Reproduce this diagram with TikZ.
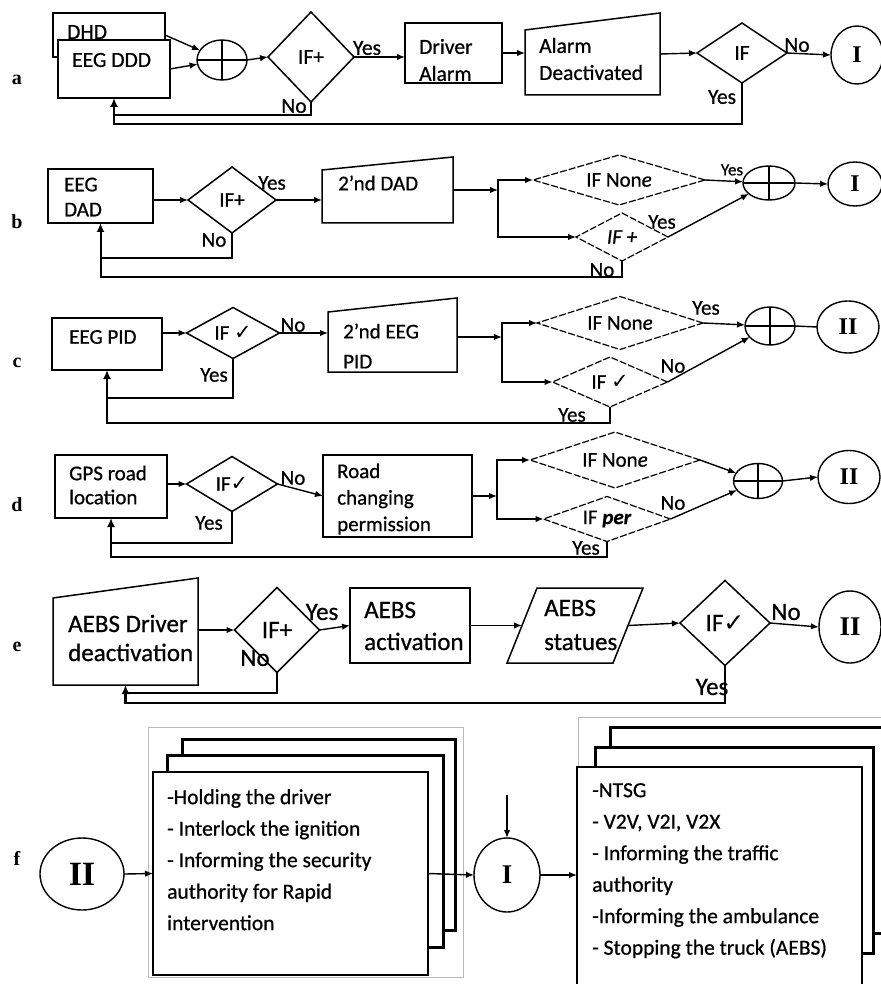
\documentclass[tikz,border=0pt]{standalone}
\usepackage{fontspec}
\setmainfont{Carlito}[FakeBold=0.7]
\newfontfamily\serifb{Liberation Serif}
\newfontfamily\djv{DejaVu Sans}
\usetikzlibrary{arrows.meta,shapes.geometric,calc}
\newcommand\tsz[2]{\fontsize{#1}{#2}\selectfont}
\newcommand\chk{{\djv\char"2713}}
\begin{document}
\begin{tikzpicture}[x=1pt,y=-1pt,
 bx/.style={draw,line width=1.5pt,fill=white,inner sep=0pt,outer sep=0pt},
 ghost/.style={inner sep=0pt,outer sep=0pt},
 shp/.style={draw,line width=1.5pt,fill=white,line join=miter},
 dia/.style={draw,diamond,line width=1.5pt,inner sep=0pt,outer sep=0pt},
 ddia/.style={draw,diamond,line width=1.2pt,dash pattern=on 7pt off 2pt,inner sep=0pt,outer sep=0pt},
 sumell/.style={draw,ellipse,line width=1.4pt,inner sep=0pt,outer sep=0pt},
 con/.style={draw,ellipse,line width=1.4pt,inner sep=0pt,outer sep=0pt,font=\serifb\bfseries\tsz{24}{24}},
 txt/.style={anchor=west,align=left,inner sep=0pt},
 yn/.style={inner sep=0pt},
 arr/.style={line width=1.4pt,-{Latex[length=8pt,width=6.5pt]}},
 lp/.style={line width=2pt},
 lparr/.style={line width=2pt,-{Latex[length=9pt,width=8pt]}},
 lab/.style={font=\serifb\bfseries\tsz{20}{20}},
 stk/.style={draw,line width=3pt,fill=white},
 frm/.style={draw=gray!55,line width=1pt},
 crs/.style={line width=1.4pt}
]
\useasboundingbox (0,0) rectangle (880,984);
\fill[white] (0,0) rectangle (880,984);

% ---------------- row a ----------------
\begin{scope}[font=\tsz{21.5}{27}]
\node[lab] (la) at (17,80) {a};
\node[bx,minimum width=112,minimum height=44] (dhd) at (109,35) {};
\node[txt] (dhdt) at (67,32) {DHD};
\node[bx,minimum width=112,minimum height=58] (eegA) at (114,69) {};
\node[txt] (eegAt) at (72,60) {EEG DDD};
\node[sumell,minimum width=50,minimum height=40] (sumA) at (222,60) {};
\draw[crs] (sumA.north) -- (sumA.south) (sumA.west) -- (sumA.east);
\node[dia,minimum width=86,minimum height=90] (ifA1) at (311,57) {};
\node (ifA1t) at (ifA1) {IF+};
\node[bx,minimum width=97,minimum height=60] (drv) at (453.5,53) {};
\node[txt] (drvt) at (419,60) {Driver\\Alarm};
\node[ghost,minimum width=135,minimum height=82] (alarm) at (592.5,54) {};
\draw[shp] (alarm.south west) -- ($(alarm.north west)+(0,17)$) -- (alarm.north east) -- (alarm.south east) -- cycle;
\node[txt] (alarmt) at (539,59) {Alarm\\Deactivated};
\node[dia,minimum width=90,minimum height=60] (ifA2) at (742,53) {};
\node (ifA2t) at (ifA2) {IF};
\node[con,minimum width=52,minimum height=58] (cIa) at (857,55) {I};
\draw[arr] (dhd.east) -- (sumA);
\draw[arr] (eegA.east) -- (sumA);
\draw[arr] (sumA.east) -- (ifA1.west);
\draw[arr] (ifA1.east) -- (ifA1.east -| drv.west);
\draw[arr] (drv.east) -- (drv.east -| alarm.west);
\draw[arr] (alarm.east) -- (ifA2.west);
\draw[arr] (ifA2.east) -- (cIa.west);
\coordinate (laI) at (311,115);
\coordinate (laO) at (742,124);
\draw[lp,line width=2.8pt] (ifA1.south) -- (laI) -- (laI -| eegA.south);
\draw[lparr,line width=2.8pt] (ifA2.south) -- (laO) -- (laO -| eegA.south) -- (eegA.south);
\node[yn] (ya1) at (367,48) {Yes};
\node[yn] (na1) at (294,106) {No};
\node[yn] (na2) at (797,45) {No};
\node[yn] (ya2) at (722,97) {Yes};
\end{scope}

% ---------------- row b ----------------
\begin{scope}[font=\tsz{21}{25}]
\node[lab] (lb) at (17,222) {b};
\node[bx,minimum width=105,minimum height=54] (eegB) at (100.5,196) {};
\node[txt] (eegBt) at (64,197) {EEG\\DAD};
\node[dia,minimum width=88,minimum height=66] (ifB1) at (232,200) {};
\node (ifB1t) at (ifB1) {IF+};
\node[ghost,minimum width=131,minimum height=66] (dadB) at (387.5,190) {};
\draw[shp] (dadB.south west) -- ($(dadB.north west)+(0,13)$) -- (dadB.north east) -- (dadB.south east) -- cycle;
\node[txt] (dadBt) at (338,183) {2’nd DAD};
\coordinate (jB) at (498,190);
\node[ddia,minimum width=172,minimum height=50] (ifB2) at (619,180) {};
\node (ifB2t) at (ifB2) {IF Non\textit{e}};
\node[ddia,minimum width=92,minimum height=48] (ifB3) at (622,237) {};
\node (ifB3t) at (ifB3) {\textit{IF +}};
\node[sumell,minimum width=52,minimum height=34] (sumB) at (769,183) {};
\draw[crs] (sumB.north) -- (sumB.south) (sumB.west) -- (sumB.east);
\node[con,minimum width=54,minimum height=44] (cIb) at (855,184) {I};
\draw[arr] (eegB.east |- ifB1.west) -- (ifB1.west);
\draw[arr] (ifB1.east) -- (ifB1.east -| dadB.west);
\draw[arr] (dadB.east) -- (jB);
\draw[arr] (jB) |- (ifB2.west);
\draw[arr] (jB) |- (ifB3.west);
\draw[arr] (ifB2.east) -- (sumB);
\draw[arr] (ifB3.east) -- (sumB);
\draw[arr] (sumB.east) -- (cIb.west);
\coordinate (lbI) at (232,258);
\coordinate (lbO) at (622,277);
\draw[lp] (ifB1.south) -- (lbI) -- (lbI -| eegB.south);
\draw[lparr] (ifB3.south) -- (lbO) -- (lbO -| eegB.south) -- (eegB.south);
\node[yn] (yb1) at (272,183) {Yes};
\node[yn] (nb1) at (214,240) {No};
\node[yn,font=\tsz{17}{17}] (yb2) at (732,170) {Yes};
\node[yn] (yb3) at (662,222) {Yes};
\node[yn] (nb2) at (602,270) {No};
\end{scope}

% ---------------- row c ----------------
\begin{scope}[font=\tsz{21}{25}]
\node[lab] (lc) at (17,363) {c};
\node[bx,minimum width=110,minimum height=52] (eegC) at (107,344) {};
\node[txt] (eegCt) at (69,337) {EEG PID};
\node[dia,minimum width=93,minimum height=51] (ifC1) at (233,333) {};
\node (ifC1t) at (ifC1) {IF \chk};
\node[ghost,minimum width=129,minimum height=74] (pidC) at (392.5,335) {};
\draw[shp] (pidC.south west) -- ($(pidC.north west)+(0,14)$) -- (pidC.north east) -- (pidC.south east) -- cycle;
\node[txt,font=\tsz{21}{30}] (pidCt) at (343,346) {2’nd EEG\\PID};
\coordinate (jC) at (502,337);
\node[ddia,minimum width=166,minimum height=53] (ifC2) at (620,323) {};
\node (ifC2t) at (ifC2) {IF Non\textit{e}};
\node[ddia,minimum width=115,minimum height=50] (ifC3) at (610,382) {};
\node (ifC3t) at (ifC3) {IF \chk};
\node[sumell,minimum width=50,minimum height=38] (sumC) at (770,326) {};
\draw[crs] (sumC.north) -- (sumC.south) (sumC.west) -- (sumC.east);
\node[con,minimum width=62,minimum height=52] (cIIc) at (848,327) {II};
\draw[arr] (eegC.east |- ifC1.west) -- (ifC1.west);
\draw[arr] (ifC1.east) -- (ifC1.east -| pidC.west);
\draw[arr] (pidC.east |- jC) -- (jC);
\draw[arr] (jC) |- (ifC2.west);
\draw[arr] (jC) |- (ifC3.west);
\draw[arr] (ifC2.east) -- (sumC);
\draw[arr] (ifC3.east) -- (sumC);
\draw[line width=1.4pt] (sumC.east) -- (cIIc.west);
\coordinate (lcI) at (233,398);
\coordinate (lcO) at (610,423);
\draw[lp] (ifC1.south) -- (lcI) -- (lcI -| eegC.south);
\draw[lparr] (ifC3.south) -- (lcO) -- (lcO -| eegC.south) -- (eegC.south);
\node[yn] (nc1) at (293,325) {No};
\node[yn] (yc1) at (214,375) {Yes};
\node[yn] (yc2) at (706,308) {Yes};
\node[yn] (nc2) at (673,366) {No};
\node[yn] (yc3) at (572,415) {Yes};
\end{scope}

% ---------------- row d ----------------
\begin{scope}[font=\tsz{21}{24}]
\node[lab] (ld) at (17,505) {d};
\node[bx,minimum width=112,minimum height=63] (gps) at (111,486.5) {};
\node[txt] (gpst) at (69,485) {GPS road\\location};
\node[dia,minimum width=91,minimum height=55] (ifD1) at (232,484) {};
\node (ifD1t) at (ifD1) {IF\chk};
\node[bx,minimum width=149,minimum height=82] (road) at (397.5,496) {};
\node[txt,font=\tsz{21}{26.5}] (roadt) at (337,499) {Road\\changing\\permission};
\coordinate (jD) at (497,496);
\node[ddia,minimum width=170,minimum height=56] (ifD2) at (615,460) {};
\node (ifD2t) at (ifD2) {IF Non\textit{e}};
\node[ddia,minimum width=127,minimum height=45] (ifD3) at (607,519) {};
\node (ifD3t) at (ifD3) {IF \textbf{\textit{per}}};
\node[sumell,minimum width=49,minimum height=35] (sumD) at (758,481) {};
\draw[crs] (sumD.north) -- (sumD.south) (sumD.west) -- (sumD.east);
\node[con,minimum width=62,minimum height=53] (cIId) at (849,477) {II};
\draw[arr] (gps.east |- ifD1.west) -- (ifD1.west);
\draw[arr] (ifD1.east) -- (road.west);
\draw[arr] (road.east) -- (jD);
\draw[arr] (jD) |- (ifD2.west);
\draw[arr] (jD) |- (ifD3.west);
\draw[arr] (ifD2.east) -- (sumD);
\draw[arr] (ifD3.east) -- (sumD);
\draw[arr] (sumD.east) -- (cIId.west);
\coordinate (ldI) at (232,543);
\coordinate (ldO) at (607,557);
\draw[lp] (ifD1.south) -- (ldI) -- (ldI -| gps.south);
\draw[lparr] (ifD3.south) -- (ldO) -- (ldO -| gps.south) -- (gps.south);
\node[yn] (nd1) at (293,478) {No};
\node[yn] (yd1) at (209,523) {Yes};
\node[yn] (nd2) at (673,503) {No};
\node[yn] (yd2) at (586,548) {Yes};
\end{scope}

% ---------------- row e ----------------
\begin{scope}[font=\tsz{25}{29}]
\node[lab] (le) at (17,647) {e};
\node[ghost,minimum width=145,minimum height=107] (aebsD) at (125.5,631.5) {};
\draw[shp] (aebsD.south west) -- ($(aebsD.north west)+(0,20)$) -- (aebsD.north east) -- (aebsD.south east) -- cycle;
\node[txt] (aebsDt) at (68,638) {AEBS Driver\\deactivation};
\node[dia,minimum width=85,minimum height=85] (ifE1) at (277,630) {};
\node (ifE1t) at (ifE1) {IF+};
\node[bx,minimum width=120,minimum height=75] (aebsA) at (410,625.5) {};
\node[txt,font=\tsz{25}{32}] (aebsAt) at (364,626) {AEBS\\activation};
\node[ghost,minimum width=136,minimum height=75] (stat) at (575,625.5) {};
\draw[shp] (stat.south west) -- ($(stat.north west)+(30,0)$) -- (stat.north east) -- ($(stat.south east)+(-30,0)$) -- cycle;
\coordinate (statL) at (522,625.5);
\coordinate (statR) at (628,625.5);
\node[txt,font=\tsz{25}{34}] (statt) at (544,625) {AEBS\\statues};
\node[dia,minimum width=90,minimum height=85] (ifE2) at (725,623) {};
\node (ifE2t) at (ifE2) {IF\chk};
\node[con,font=\serifb\bfseries\tsz{27}{27},minimum width=62,minimum height=72] (cIIe) at (850,627) {II};
\draw[arr] (ifE1.west -| aebsD.east) -- (ifE1.west);
\draw[arr] (ifE1.east) -- (aebsA.west);
\draw[arr] (aebsA.east) -- (statL);
\draw[arr] (statR) -- (ifE2.west);
\draw[arr] (ifE2.east) -- (cIIe.west);
\coordinate (leI) at (277,693);
\coordinate (leO) at (725,703);
\draw[lp,line width=2.6pt] (ifE1.south) -- (leI) -- (leI -| aebsD.south);
\draw[lparr,line width=2.6pt] (ifE2.south) -- (leO) -- (leO -| aebsD.south) -- (aebsD.south);
\node[yn] (ye1) at (322,612) {Yes};
\node[yn] (ne1) at (255,658) {No};
\node[yn] (ne2) at (786,612) {No};
\node[yn] (ye2) at (712,687) {Yes};
\end{scope}

% ---------------- row f ----------------
\begin{scope}[font=\tsz{21.5}{31.5}]
\node[lab] (lf) at (17,858) {f};
\draw[frm] (148,727) rectangle (463,977);
\draw[stk] (182,739) rectangle (455,930);
\draw[stk] (167,755) rectangle (443,947);
\node[bx,line width=2pt,minimum width=275,minimum height=203] (fL) at (290.5,873.5) {};
\node[anchor=north west,align=left,inner sep=0pt] (fLt) at (167,789) {-Holding the driver\\- Interlock the ignition\\- Informing the security\\authority for Rapid\\intervention};
\node[con,font=\serifb\bfseries\tsz{34}{34},minimum width=84,minimum height=72] (cIIf) at (82,874) {II};
\draw[arr] (cIIf.east) -- (fL.west);
\node[con,font=\serifb\bfseries\tsz{27}{27},minimum width=66,minimum height=74] (cIf) at (507,875) {I};
\draw[arr] (fL.east) -- (cIf.west);
\coordinate (topI) at (507,795);
\draw[arr] (topI) -- (cIf.north);
\draw[frm] (578,717) rectangle (900,1000);
\draw[stk] (610,727) rectangle (900,933);
\draw[stk] (595,747) rectangle (873,953);
\node[bx,line width=2pt,minimum width=285,minimum height=246] (fR) at (719.5,890) {};
\draw[arr] (cIf.east) -- (cIf.east -| fR.west);
\node[anchor=north west,align=left,inner sep=0pt] (fRt) at (592,783) {-NTSG\\- V2V, V2I, V2X\\- Informing the traffic\\authority\\-Informing the ambulance\\- Stopping the truck (AEBS)};
\end{scope}
\end{tikzpicture}
\end{document}
